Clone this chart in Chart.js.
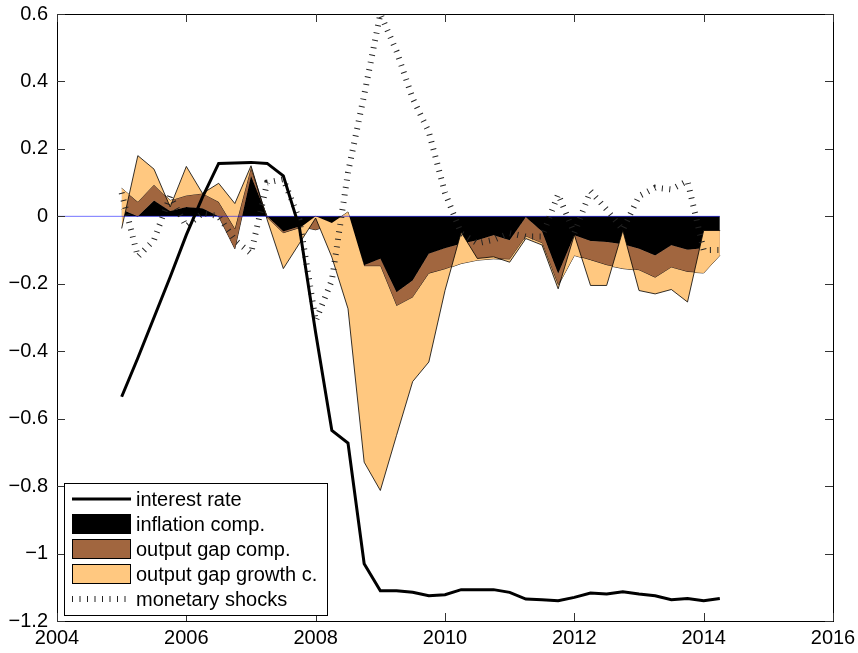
<!DOCTYPE html>
<html>
<head>
<meta charset="utf-8">
<script src="https://cdn.jsdelivr.net/npm/chart.js@4.4.1/dist/chart.umd.min.js"></script>
<style>
body{margin:0;background:#fff}
#wrap{width:858px;height:653px}
</style>
</head>
<body>
<div id="wrap"><canvas id="myChart" width="858" height="653"></canvas></div>
<script>
// quarterly dates
var quarters = [2005, 2005.25, 2005.5, 2005.75, 2006, 2006.25, 2006.5, 2006.75,
  2007, 2007.25, 2007.5, 2007.75, 2008, 2008.25, 2008.5, 2008.75,
  2009, 2009.25, 2009.5, 2009.75, 2010, 2010.25, 2010.5, 2010.75,
  2011, 2011.25, 2011.5, 2011.75, 2012, 2012.25, 2012.5, 2012.75,
  2013, 2013.25, 2013.5, 2013.75, 2014, 2014.25];

var interestRate = [-0.535, -0.42, -0.30, -0.18, -0.055, 0.057, 0.157, 0.158,
  0.16, 0.157, 0.12, -0.035, -0.345, -0.635, -0.672, -1.03,
  -1.11, -1.11, -1.115, -1.125, -1.122, -1.107, -1.107, -1.107,
  -1.115, -1.135, -1.137, -1.14, -1.13, -1.117, -1.12, -1.113,
  -1.12, -1.125, -1.137, -1.133, -1.14, -1.133];

var inflationComp = [0.02, 0.0, 0.047, 0.016, 0.028, 0.024, 0.0, -0.096,
  0.12, 0.0, -0.045, -0.03, -0.04, -0.025, 0.005, -0.145,
  -0.126, -0.225, -0.19, -0.111, -0.095, -0.081, -0.071, -0.056,
  -0.071, -0.003, -0.045, -0.17, -0.056, -0.073, -0.076, -0.083,
  -0.096, -0.116, -0.086, -0.099, -0.095, -0.042];

var outputGapComp = [0.063, 0.043, 0.047, 0.031, 0.034, 0.044, 0.043, 0.06,
  0.025, -0.005, -0.005, -0.005, 0.04, 0.005, 0.008, -0.003,
  -0.022, -0.041, -0.051, -0.059, -0.062, -0.059, -0.059, -0.07,
  -0.057, -0.057, -0.035, -0.035, -0.06, -0.057, -0.069, -0.072,
  -0.064, -0.066, -0.066, -0.066, -0.073, -0.074];

var outputGrowthComp = [-0.119, 0.137, 0.046, -0.019, 0.086, 0.0, 0.055, 0.074,
  0.005, -0.005, -0.105, -0.045, -0.005, -0.101, -0.287, -0.581,
  -0.665, -0.384, -0.249, -0.262, -0.063, 0.093, 0.005, 0.006,
  -0.008, -0.006, -0.005, -0.01, 0.061, -0.075, -0.06, 0.113,
  -0.06, -0.048, -0.065, -0.089, 0.126, 0.074];

var monetaryShocks = [0.07, -0.12, -0.07, 0.06, -0.03, 0.01, 0.0, -0.07,
  -0.11, 0.1, 0.11, -0.01, -0.31, -0.19, 0.13, 0.36,
  0.6, 0.49, 0.35, 0.25, 0.07, -0.05, -0.08, -0.07,
  -0.05, -0.06, -0.06, 0.065, -0.05, 0.075, 0.02, -0.04,
  0.06, 0.085, 0.08, 0.105, -0.1, -0.1];

var xTicks = [2004, 2006, 2008, 2010, 2012, 2014, 2016];
var yTicks = [-1.2, -1, -0.8, -0.6, -0.4, -0.2, 0, 0.2, 0.4, 0.6];

var FONT = "'Liberation Sans', Arial, Helvetica, sans-serif";

function addUp(a, b) { return a.map((v, i) => v + b[i]) }
function pts(ys) { return quarters.map((q, i) => ({x: q, y: ys[i]})) }

// MATLAB style stacking (plain cumulative sums)
var stack1 = inflationComp;
var stack2 = addUp(stack1, outputGapComp);
var stack3 = addUp(stack2, outputGrowthComp);

function fmt(v) {
  let s = String(Math.round(Math.abs(v) * 10) / 10);
  return v < -1e-9 ? '\u2212' + s : s;
}

// box with inward ticks on all four sides
var axesBox = {
  id: 'axesBox',
  afterDatasetsDraw(chart) {
    let c = chart.ctx, a = chart.chartArea;
    let xs = chart.scales.x, ys = chart.scales.y;
    c.save();
    c.strokeStyle = '#000';
    c.lineWidth = 1;
    c.strokeRect(Math.round(a.left) + 0.5, Math.round(a.top) + 0.5,
      Math.round(a.right - a.left), Math.round(a.bottom - a.top));
    c.strokeStyle = '#333';
    c.beginPath();
    xTicks.forEach(t => {
      let px = Math.round(xs.getPixelForValue(t)) + 0.5;
      c.moveTo(px, a.bottom); c.lineTo(px, a.bottom - 8);
      c.moveTo(px, a.top); c.lineTo(px, a.top + 8);
    });
    yTicks.forEach(t => {
      let py = Math.round(ys.getPixelForValue(t)) + 0.5;
      c.moveTo(a.left, py); c.lineTo(a.left + 8, py);
      c.moveTo(a.right, py); c.lineTo(a.right - 8, py);
    });
    c.stroke();
    c.restore();
  }
};

// legend box in the lower left corner
var legendBox = {
  id: 'legendBox',
  afterDraw(chart) {
    let c = chart.ctx;
    let items = [0, 1, 2, 3, 4].map(i => chart.data.datasets[i]);
    let bx = 64.5, by = 483.5, bw = 263, bh = 132;
    c.save();
    c.fillStyle = '#fff';
    c.fillRect(bx, by, bw, bh);
    c.strokeStyle = '#000';
    c.lineWidth = 1;
    c.strokeRect(bx, by, bw, bh);
    c.font = '20px ' + FONT;
    c.textBaseline = 'middle';
    items.forEach((d, k) => {
      let yc = 499 + k * 25;
      if (d.fill) {
        c.fillStyle = d.backgroundColor;
        c.fillRect(72.5, yc - 9.5, 58, 19);
        c.strokeStyle = '#000';
        c.lineWidth = 1;
        c.strokeRect(72.5, yc - 9.5, 58, 19);
      } else {
        c.beginPath();
        c.strokeStyle = d.borderColor;
        c.lineWidth = d.borderWidth;
        c.setLineDash(d.borderDash || []);
        c.moveTo(72, yc); c.lineTo(131, yc);
        c.stroke();
        c.setLineDash([]);
      }
      c.fillStyle = '#000';
      c.fillText(d.label, 136, yc + 1);
    });
    c.restore();
  }
};

var ctx = document.getElementById('myChart').getContext('2d');

var myChart = new Chart(ctx, {
  type: 'line',
  data: {
    datasets: [
      {
        label: 'interest rate',
        data: pts(interestRate),
        borderColor: '#000',
        borderWidth: 3,
        fill: false,
        order: 1
      },
      {
        label: 'inflation comp.',
        data: pts(stack1),
        borderColor: '#000',
        borderWidth: 0.8,
        backgroundColor: '#000000',
        fill: 'origin',
        order: 6
      },
      {
        label: 'output gap comp.',
        data: pts(stack2),
        borderColor: '#000',
        borderWidth: 0.8,
        backgroundColor: '#a1663f',
        fill: '-1',
        order: 5
      },
      {
        label: 'output gap growth c.',
        data: pts(stack3),
        borderColor: '#000',
        borderWidth: 0.8,
        backgroundColor: '#ffc880',
        fill: '-1',
        order: 4
      },
      {
        label: 'monetary shocks',
        data: pts(monetaryShocks),
        borderColor: '#222',
        borderWidth: 6,
        borderDash: [1, 6.5],
        fill: false,
        order: 2
      },
      {
        label: 'zero',
        data: [{x: 2004, y: 0}, {x: quarters[quarters.length - 1], y: 0}],
        borderColor: 'rgba(0,0,255,0.55)',
        borderWidth: 1,
        fill: false,
        order: 3
      }
    ]
  },
  options: {
    responsive: false,
    animation: false,
    events: [],
    devicePixelRatio: 1,
    elements: {point: {radius: 0}, line: {tension: 0}},
    layout: {padding: {left: 0, right: 25, top: 14, bottom: 0}},
    plugins: {
      legend: {display: false},
      tooltip: {enabled: false},
      filler: {drawTime: 'beforeDatasetDraw'}
    },
    scales: {
      x: {
        type: 'linear',
        min: 2004,
        max: 2016,
        afterBuildTicks: s => { s.ticks = xTicks.map(v => ({value: v})) },
        afterFit: s => { s.height = 32; s.paddingLeft = 0; s.paddingRight = 0 },
        grid: {display: false},
        border: {display: false},
        ticks: {
          color: '#000',
          font: {size: 20, family: FONT},
          padding: -3,
          maxRotation: 0,
          autoSkip: false,
          callback: v => String(v)
        }
      },
      y: {
        type: 'linear',
        min: -1.2,
        max: 0.6,
        afterBuildTicks: s => { s.ticks = yTicks.map(v => ({value: v})) },
        afterFit: s => { s.width = 57; s.paddingTop = 0; s.paddingBottom = 0 },
        grid: {display: false},
        border: {display: false},
        ticks: {
          color: '#000',
          font: {size: 20, family: FONT},
          padding: 1,
          autoSkip: false,
          callback: v => fmt(v)
        }
      }
    }
  },
  plugins: [axesBox, legendBox]
});
</script>
</body>
</html>
